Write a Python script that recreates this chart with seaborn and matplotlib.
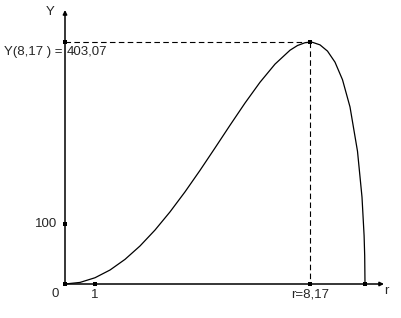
import matplotlib
matplotlib.use("Agg")
import matplotlib.pyplot as plt
import seaborn as sns
import pandas as pd

# Curve samples: r and Y(r)
r_vals = [0, 0.5, 1, 1.5, 2, 2.5, 3, 3.5, 4, 4.5, 5, 5.5, 6, 6.5, 7, 7.5,
          7.75, 8, 8.17, 8.25, 8.5, 8.75, 9, 9.25, 9.5, 9.75, 9.9, 9.97, 9.99, 10]
y_vals = [0, 2.62, 10.42, 23.30, 41.04, 63.37, 89.91, 120.17, 153.56, 189.38,
          226.72, 264.56, 301.59, 336.23, 366.45, 389.62, 397.49, 402.12,
          403.07, 402.79, 398.56, 388.15, 369.73, 340.46, 295.11, 221.21,
          144.79, 80.57, 46.73, 0]

r_max = 8.17
y_max = 403.07
point_r = [0, 1, 0, 0, r_max, r_max, 10]
point_y = [0, 0, 100, y_max, y_max, 0, 0]

sns.set_theme(style="white")
plt.rcParams['font.family'] = ['Liberation Sans', 'DejaVu Sans']

fig = plt.figure(figsize=(4.02, 3.18), dpi=100)
ax = fig.add_axes([0, 0, 1, 1])
ax.set_xlim(-65 / 30, (402 - 65) / 30)
ax.set_ylim(-(318 - 284) / 0.6, 284 / 0.6)
ax.set_axis_off()

df = pd.DataFrame({"r": r_vals, "Y": y_vals})
sns.lineplot(data=df, x="r", y="Y", ax=ax, color="black", linewidth=0.9,
             sort=False, estimator=None)

# dashed guide lines
ax.plot([0, r_max], [y_max, y_max], color="black", linewidth=0.8,
        dashes=(5, 3))
ax.plot([r_max, r_max], [y_max, 0], color="black", linewidth=0.8,
        dashes=(5, 3))

# axes with arrows
ax.annotate("", xy=((384 - 65) / 30, 0), xytext=(0, 0),
            arrowprops=dict(arrowstyle="-|>", color="black", lw=1.1,
                            mutation_scale=6, shrinkA=0, shrinkB=0))
ax.annotate("", xy=(0, (284 - 10) / 0.6), xytext=(0, 0),
            arrowprops=dict(arrowstyle="-|>", color="black", lw=1.1,
                            mutation_scale=6, shrinkA=0, shrinkB=0))

pts = pd.DataFrame({"r": point_r, "Y": point_y})
sns.scatterplot(data=pts, x="r", y="Y", ax=ax, marker="s", s=7,
                color="black", edgecolor="black", linewidth=0, zorder=5)
ax.set_xlabel("")
ax.set_ylabel("")

fs = 9.5
px = 1 / 30.0
ax.text(-0.2, -7, "0", ha="right", va="top", fontsize=fs)
ax.text(1, -9, "1", ha="center", va="top", fontsize=fs)
ax.text(-8 * px, 100, "100", ha="right", va="center", fontsize=fs)
ax.text(-2 * px, (284 - 52) / 0.6, "Y(8,17 ) =", ha="right", va="center",
        fontsize=fs)
ax.text(2 * px, (284 - 52) / 0.6, "403,07", ha="left", va="center",
        fontsize=fs)
ax.text(r_max, -8, "r=8,17", ha="center", va="top", fontsize=fs)
ax.text((386 - 65) / 30, -2, "r", ha="center", va="top", fontsize=fs)
ax.text(-15 * px, (284 - 12) / 0.6, "Y", ha="center", va="center", fontsize=fs)

fig.savefig("out.png", dpi=100)
